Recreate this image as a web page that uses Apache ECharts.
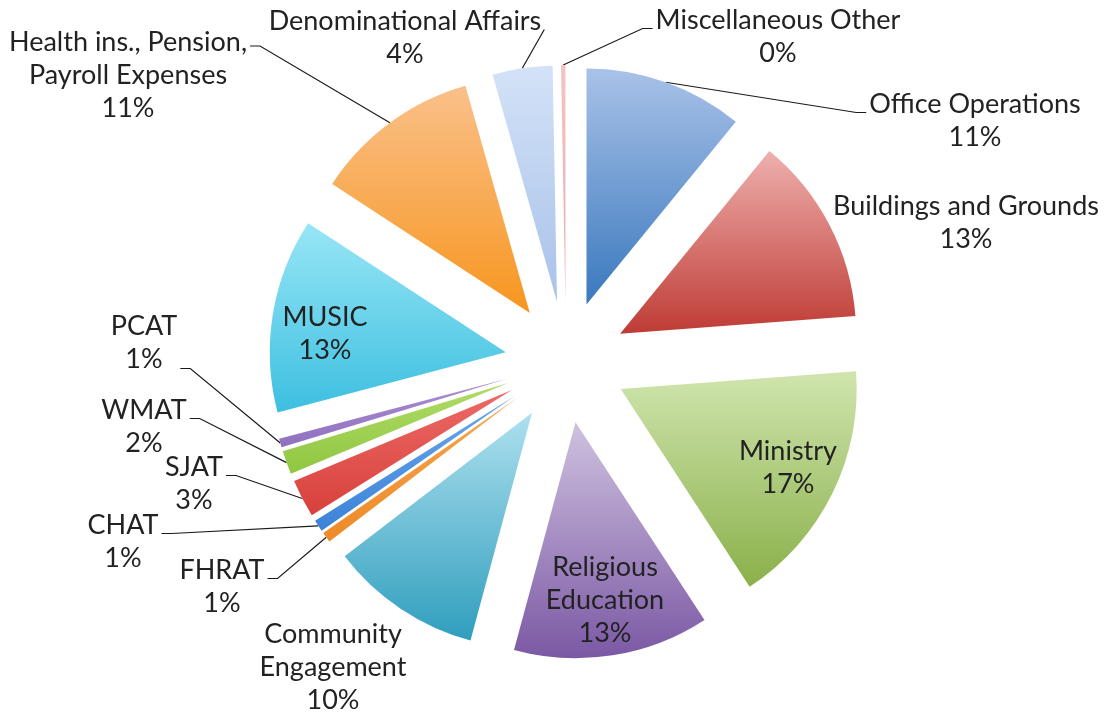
<!DOCTYPE html>
<html><head><meta charset="utf-8">
<script src="https://cdn.jsdelivr.net/npm/echarts@6/dist/echarts.min.js"></script>
<style>html,body{margin:0;padding:0;background:#fff}#c{width:1106px;height:717px}</style>
</head><body><div id="c"></div>
<script>
// ---- data (clockwise from 12 o'clock) ----
const categories = [
  'Office Operations', 'Buildings and Grounds', 'Ministry', 'Religious\nEducation',
  'Community\nEngagement', 'FHRAT', 'CHAT', 'SJAT', 'WMAT', 'PCAT', 'MUSIC',
  'Health ins., Pension,\nPayroll Expenses', 'Denominational Affairs', 'Miscellaneous Other'
];
const values = [10.9, 12.9, 17.0, 13.4, 10.4, 0.7, 0.8, 2.6, 1.6, 0.6, 13.3, 11.4, 4.1, 0.3];

// ---- styles / layout ----
const colorTop = ['#a9c2e8','#eeb0ae','#d0e5ae','#cfc2e0','#aee0ef','#f6a550','#6aa8ea','#ec6a66','#b0dc68','#ab8fd4','#98e6f6','#fac08a','#d3e2f7','#f4c4c4'];
const colorBottom = ['#3a78be','#bf3b35','#8ab04a','#7b58a4','#2f9ebd','#ee8a28','#3c82d8','#d8403c','#90c640','#8f70c0','#3dbfe0','#f7961f','#a8c2ea','#eba8a8'];
const insideSet = ['Ministry', 'Religious\nEducation', 'MUSIC'];
const noLineSet = ['Buildings and Grounds', 'Community\nEngagement'];
const labelCentre = {
  'Office Operations': [975, 121],
  'Buildings and Grounds': [966, 223],
  'Ministry': [788, 468],
  'Religious\nEducation': [605, 600],
  'Community\nEngagement': [333, 667],
  'FHRAT': [222, 587],
  'CHAT': [123, 542],
  'SJAT': [194, 484],
  'WMAT': [144, 427],
  'PCAT': [144, 343],
  'MUSIC': [325, 334],
  'Health ins., Pension,\nPayroll Expenses': [128, 75],
  'Denominational Affairs': [405, 38],
  'Miscellaneous Other': [778, 37]
};
// which text line the leader attaches to, and vertical offset from that line's centre
const leaderAttach = { 'PCAT': [1, 9], 'Health ins., Pension,\nPayroll Expenses': [0, 4] };
const PIE_CX = 566, PIE_CY = 362, PIE_R = 236, EXPLODE = 61, LINE_H = 33;

const chart = echarts.init(document.getElementById('c'));
const total = values.reduce((a, b) => a + b, 0);
let cum = 0;
const series = categories.map((name, i) => {
  const mid = (cum + values[i] / 2) / total * 2 * Math.PI;
  cum += values[i];
  const cx = PIE_CX + EXPLODE * Math.sin(mid);
  const cy = PIE_CY - EXPLODE * Math.cos(mid);
  const inside = insideSet.includes(name);
  const hasLine = !inside && !noLineSet.includes(name);
  return {
    type: 'pie',
    center: [cx, cy],
    radius: [0, PIE_R],
    startAngle: 90,
    clockwise: true,
    silent: true,
    avoidLabelOverlap: false,
    percentPrecision: 0,
    emphasis: { disabled: true },
    data: categories.map((n, j) => ({
      name: n,
      value: values[j],
      itemStyle: j === i
        ? { borderWidth: 0, color: new echarts.graphic.LinearGradient(0, 0, 0, 1, [
            { offset: 0, color: colorTop[j] }, { offset: 1, color: colorBottom[j] }]) }
        : { borderWidth: 0, color: 'rgba(0,0,0,0)' },
      label: { show: j === i, position: inside ? 'inside' : 'outside' },
      labelLine: { show: j === i && hasLine }
    })),
    label: {
      formatter: '{b}\n{d}%',
      color: '#222',
      fontFamily: 'Lato',
      fontSize: 27,
      lineHeight: LINE_H
    },
    labelLine: {
      length: 10, length2: 10,
      lineStyle: { color: '#1a1a1a', width: 1.2 }
    },
    labelLayout: function (p) {
      const [lx, ly] = labelCentre[categories[p.dataIndex]];
      const out = { x: lx, y: ly, align: 'center', verticalAlign: 'middle' };
      if (p.dataIndex === i && hasLine) {
        const w = p.labelRect.width, h = p.labelRect.height;
        const att = leaderAttach[name] || [0, 8];
        const ay = ly - h / 2 + LINE_H * (att[0] + 0.5) + att[1];
        // start: middle of the slice's outer arc
        const sx = cx + PIE_R * Math.sin(mid), sy = cy - PIE_R * Math.cos(mid);
        const right = sx > lx;
        const axp = right ? lx + w / 2 + 3 : lx - w / 2 - 3;
        const dir = Math.sign(sx - axp);
        const bend = (right ? dir > 0 : dir < 0) ? axp + dir * 10 : axp;
        out.labelLinePoints = [[sx, sy], [bend, ay], [axp, ay]];
      }
      return out;
    }
  };
});

chart.setOption({ animation: false, series });
</script></body></html>
